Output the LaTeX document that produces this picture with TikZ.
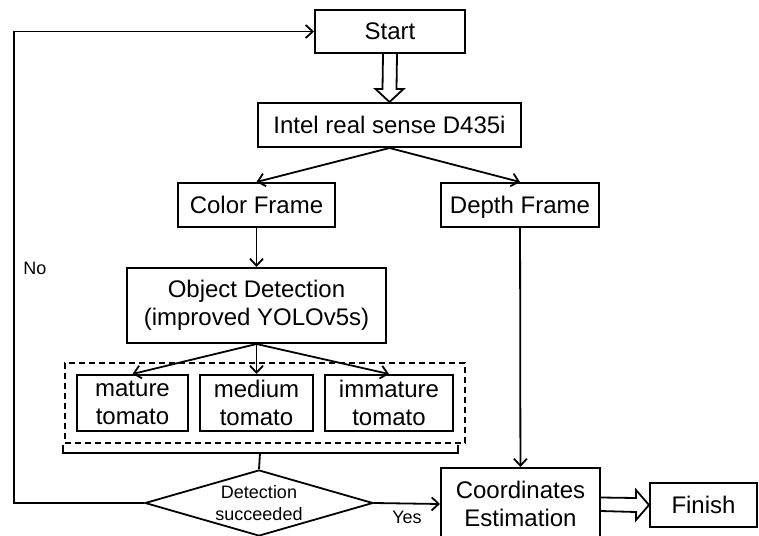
\documentclass[tikz,border=0pt]{standalone}
\usepackage{fontspec}
\setmainfont{Liberation Sans}
\usetikzlibrary{positioning,arrows.meta,calc,fit,shapes.geometric}

\tikzset{
  box/.style={draw,line width=2pt,inner sep=0pt,align=center,
    font=\fontsize{24}{28}\selectfont},
  flow/.style={-{Straight Barb[length=7pt,width=13pt]},line width=1.8pt},
  hollow/.style={draw,line width=1.8pt,fill=white,line join=miter},
  small/.style={font=\fontsize{18}{22}\selectfont},
}

\begin{document}
\begin{tikzpicture}[x=1pt,y=-1pt]
\useasboundingbox (0,0) rectangle (759,535);

% ================= camera branch =================
\node[box,minimum width=150pt,minimum height=43pt] (start) at (390,31.5) {Start};
\node[box,minimum width=263pt,minimum height=44pt] (intel) at (389.5,125) {Intel real sense D435i};
\node[box,minimum width=157pt,minimum height=44pt] (color) at (256.5,205) {Color Frame};
\node[box,minimum width=158pt,minimum height=44pt,text depth=0pt] (depth) at (520,205) {Depth Frame};
\node[box,minimum width=259pt,minimum height=75pt] (detect) at (256.5,305.5)
  {Object Detection\\(improved YOLOv5s)};

% ================= ripeness classes =================
\node[box,minimum width=111pt,minimum height=56pt] (mature) at (132.5,403) {mature\\tomato};
\node[box,minimum width=113pt,minimum height=56pt] (medium) at (256.5,403) {medium\\tomato};
\node[box,minimum width=128pt,minimum height=56pt] (immature) at (389,403) {immature\\tomato};
\node[draw,line width=1.8pt,dash pattern=on 6pt off 4pt,inner sep=11pt,
  fit=(mature)(medium)(immature)] (group) {};

% bracket under the classes
\coordinate (brL) at (63,445);
\coordinate (brR) at (458,445);
\coordinate (brM) at (260,453);
\draw[line width=1.8pt] (brL) -- (63,453) -- (458,453) -- (brR);

% ================= decision and output =================
\node[draw,diamond,aspect=3.4,line width=1.8pt,inner sep=0pt,align=center,small,
  minimum width=228pt,minimum height=66pt] (decide) at (259,503) {Detection\\succeeded};
\node[box,minimum width=159pt,minimum height=72pt] (coord) at (520.5,504)
  {Coordinates\\Estimation};
\node[box,minimum width=107pt,minimum height=44pt] (finish) at (703.5,505) {Finish};
\coordinate (loop) at (14,503);
\node[small] (no) at (35,268) {No};

% ================= connectors =================
\draw[hollow] ($(start.south)+(-7,0)$) -- ($(intel.north)+(-7,-13)$)
  -- ($(intel.north)+(-14,-13)$) -- (intel.north) -- ($(intel.north)+(14,-13)$)
  -- ($(intel.north)+(7,-13)$) -- ($(start.south)+(7,0)$);
\draw[flow] (intel.south) -- (color.north);
\draw[flow] (intel.south) -- (depth.north);
\draw[flow] (color) -- (detect);
\foreach \c in {mature,medium,immature}
  \draw[flow] (detect.south) -- (\c.north);
\draw[line width=1.8pt] (brM) -- (decide.north);
\draw[flow] (depth) -- (coord);
\draw[flow] (decide.east) -- (coord.west) node[small,midway,below=3pt] (yes) {Yes};
\draw[flow] (decide.west) -- (loop) |- (start.west);
\draw[hollow] ($(coord.east)+(0,-6.5)$) -- ($(finish.west)+(-13,-7)$)
  -- ($(finish.west)+(-13,-15)$) -- (finish.west) -- ($(finish.west)+(-13,15)$)
  -- ($(finish.west)+(-13,7)$) -- ($(coord.east)+(0,7)$);
\end{tikzpicture}
\end{document}
